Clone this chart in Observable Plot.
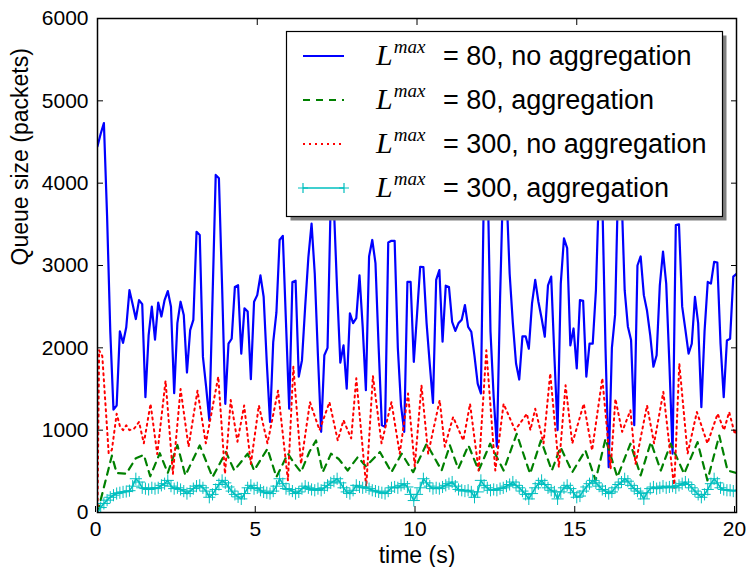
<!DOCTYPE html>
<html>
<head>
<meta charset="utf-8">
<script src="https://cdn.jsdelivr.net/npm/d3@7"></script>
<script src="https://cdn.jsdelivr.net/npm/@observablehq/plot@0.6"></script>
<style>
  html, body { margin: 0; padding: 0; background: white; }
  #wrap { position: relative; width: 746px; height: 567px; }
  #legend { position: absolute; left: 0; top: 0; pointer-events: none; }
</style>
</head>
<body>
<div id="wrap"></div>
<script>
// ---- data ----
const xTicks = [0, 5, 10, 15, 20];
const yTicks = [0, 1000, 2000, 3000, 4000, 5000, 6000];
const xLabel = "time (s)";
const yLabel = "Queue size (packets)";
const seriesNames = [
  "= 80, no aggregation",
  "= 80, aggregation",
  "= 300, no aggregation",
  "= 300, aggregation"
];
const sampleStep = 0.1; // seconds between samples of the sampled series

// L^max = 80, no aggregation (one value every 0.1 s, t = 0 .. 20)
const blueValues = [
  4450,4600,4730,3600,2200,1250,1300,2200,2060,2250,
  2700,2530,2350,2580,2530,1400,2150,2500,2100,2550,
  2380,2580,2690,2500,1450,2300,2560,2400,1700,2215,
  2340,3410,3370,1890,1525,1120,2600,4100,4060,2740,
  1320,2050,2110,2740,2760,1930,2480,2440,1620,2560,
  2640,2880,2620,1810,1100,2070,2430,3310,3360,2300,
  1260,2800,2815,1650,1850,2500,3100,3510,2900,1900,
  980,1910,2000,3800,3700,2700,1820,2030,1505,2420,
  2300,2360,2880,2255,1485,3110,3310,3030,2000,1060,
  1040,3280,3300,3300,2000,1300,980,2800,2800,1830,
  2400,2985,2980,2300,1800,1330,2825,2945,2075,2755,
  2740,2315,2205,2300,2340,2520,2255,2195,1900,1565,
  1445,4100,4300,2200,1400,800,2600,4100,3900,2900,
  2300,1810,1615,2140,2140,1990,2540,2825,2560,2360,
  2135,2760,2865,1900,1000,2780,3330,3210,2030,2235,
  1750,2580,2570,1650,2050,2050,2700,4000,3800,2000,
  550,2000,2400,4100,3900,2700,2260,2095,1060,3000,
  3110,2640,2450,2150,1770,1910,2760,3170,2780,1800,
  715,3490,3500,2500,2220,1930,2050,2620,2300,1280,
  2200,2800,2780,3045,3035,2050,1400,2090,2110,2865,
  2900
];

// L^max = 80, aggregation (turning points: time, value)
const greenTimes = [0,0.45,0.6,0.9,1.2,1.45,1.65,1.95,2.2,2.5,2.75,3.2,3.6,4.02,4.28,4.7,4.9,5.32,5.6,5.96,6.15,6.37,6.63,6.84,7.05,7.31,7.55,7.83,8.15,8.4,8.84,9.2,9.52,9.88,10.3,10.77,11.03,11.29,11.61,11.93,12.29,12.71,13.12,13.54,13.88,14.22,14.49,14.86,15.27,15.59,15.9,16.27,16.68,17.0,17.32,17.63,17.94,18.36,18.78,19.09,19.46,19.72,20];
const greenValues = [0,690,480,470,660,700,440,720,480,820,450,815,430,735,510,715,510,775,430,715,600,490,735,875,490,715,650,510,675,560,735,490,715,490,835,510,815,530,815,510,835,510,955,470,875,510,795,490,755,390,895,430,835,450,855,510,835,470,855,390,935,510,480];

// L^max = 300, no aggregation (turning points: time, value)
const redTimes = [0,0.05,0.15,0.35,0.45,0.6,0.7,0.8,0.9,1.0,1.15,1.3,1.45,1.66,1.87,2.13,2.36,2.6,2.85,3.13,3.39,3.78,3.99,4.17,4.38,4.59,4.8,5.05,5.32,5.65,5.96,6.13,6.37,6.65,6.95,7.26,7.52,7.7,7.94,8.1,8.41,8.62,8.89,9.2,9.46,9.72,9.93,10.14,10.35,10.71,10.87,11.13,11.45,11.66,11.93,12.17,12.45,12.71,13.07,13.44,13.55,13.7,13.96,14.17,14.44,14.65,14.86,15.22,15.48,15.8,16.06,16.21,16.42,16.68,16.84,17.2,17.42,17.71,18.05,18.21,18.47,18.76,19.09,19.41,19.61,19.77,19.95,20];
const redValues = [0,1970,1900,720,760,1200,1050,1000,1060,1000,1020,1100,840,1320,710,1600,470,1500,800,1480,840,1650,470,1365,860,1300,590,1300,840,1480,390,1770,590,1340,1000,1340,875,1120,900,1630,310,1660,840,1340,715,1445,560,1545,715,1365,800,1160,875,1320,510,1970,510,1320,1000,1200,1000,1260,840,1690,550,1545,840,1320,755,1630,530,1380,980,1240,590,1300,840,1465,300,1810,715,1220,840,1200,1000,1220,950,1000];

// L^max = 300, aggregation (one value every 0.1 s, t = 0 .. 20)
const cyanValues = [
  0,60,110,150,185,210,230,240,250,255,
  265,320,410,370,300,290,280,300,290,300,
  330,350,390,320,290,300,280,260,230,260,
  290,320,330,300,260,185,220,280,340,390,
  360,310,260,220,190,165,230,300,330,290,
  300,270,250,240,230,260,320,410,350,290,
  280,260,230,250,290,320,300,280,270,290,
  270,300,330,360,380,410,360,300,250,230,
  270,330,310,300,310,290,270,260,250,240,
  230,260,300,310,300,330,350,310,220,145,
  220,300,410,360,320,290,300,290,310,330,
  350,370,320,280,270,260,270,250,185,250,
  390,330,300,270,280,270,290,300,320,340,
  370,330,300,260,220,165,230,300,350,390,
  340,300,270,250,165,250,300,330,290,240,
  185,200,260,310,350,390,360,320,280,260,
  230,250,300,340,370,410,380,330,290,260,
  230,165,240,290,310,290,300,320,300,310,
  320,300,330,350,370,340,300,260,220,185,
  220,280,350,410,360,300,280,270,270,260,
  270
];

const colors = ["#0000ff", "#008000", "#ff0000", "#00bfbf"];
const dashes = [null, "7,6", "2,4", null];

// ---- tables built from the arrays ----
const blue = blueValues.map((v, i) => ({t: i * sampleStep, v}));
const cyan = cyanValues.map((v, i) => ({t: i * sampleStep, v}));
const green = greenTimes.map((t, i) => ({t, v: greenValues[i]}));
const red = redTimes.map((t, i) => ({t, v: redValues[i]}));

const font = "Liberation Sans, Arial, sans-serif";

const chart = Plot.plot({
  width: 746,
  height: 567,
  marginLeft: 97,
  marginRight: 10,
  marginTop: 18,
  marginBottom: 55,
  style: {fontFamily: font, fontSize: "21px", background: "white", color: "black"},
  x: {domain: [0, 20]},
  y: {domain: [0, 6000]},
  marks: [
    Plot.line(blue, {x: "t", y: "v", stroke: colors[0], strokeWidth: 2.2, clip: true}),
    Plot.line(green, {x: "t", y: "v", stroke: colors[1], strokeWidth: 2.2, strokeDasharray: dashes[1], clip: true}),
    Plot.line(red, {x: "t", y: "v", stroke: colors[2], strokeWidth: 2, strokeDasharray: dashes[2], clip: true}),
    Plot.line(cyan, {x: "t", y: "v", stroke: colors[3], strokeWidth: 1.6, clip: true}),
    Plot.dot(cyan, {x: "t", y: "v", symbol: "plus", r: 4, stroke: colors[3], strokeWidth: 1, clip: true}),
    Plot.axisX(xTicks, {anchor: "bottom", tickSize: -6, tickPadding: 15, fontSize: 21, dx: -2,
      tickFormat: "d", label: null}),
    Plot.axisX(xTicks, {anchor: "top", tickSize: -6, tickFormat: () => "", label: null}),
    Plot.axisY(yTicks, {anchor: "left", tickSize: -6, tickPadding: 15, fontSize: 21,
      tickFormat: "d", label: null}),
    Plot.axisY(yTicks, {anchor: "right", tickSize: -6, tickFormat: () => "", label: null}),
    Plot.text([xLabel], {frameAnchor: "bottom", dy: 43, fontSize: 23, lineAnchor: "middle"}),
    Plot.text([yLabel], {frameAnchor: "left", dx: -77, rotate: -90, fontSize: 23}),
    Plot.frame({stroke: "black", strokeWidth: 1.5})
  ]
});

const wrap = document.getElementById("wrap");
wrap.appendChild(chart);

// ---- legend box (drawn over the plot like matplotlib's) ----
const NS = "http://www.w3.org/2000/svg";
const leg = document.createElementNS(NS, "svg");
leg.setAttribute("id", "legend");
leg.setAttribute("width", 746);
leg.setAttribute("height", 567);
function el(tag, attrs, parent) {
  const e = document.createElementNS(NS, tag);
  for (const k in attrs) e.setAttribute(k, attrs[k]);
  (parent || leg).appendChild(e);
  return e;
}
const box = {x: 286.5, y: 31.5, w: 436, h: 185};
el("rect", {x: box.x + 4, y: box.y + 4, width: box.w, height: box.h, fill: "#808080"});
el("rect", {x: box.x, y: box.y, width: box.w, height: box.h, fill: "white", stroke: "black", "stroke-width": 1.2});
const rowY = [56, 100, 144, 188];
seriesNames.forEach((name, i) => {
  const y = rowY[i];
  const ln = el("line", {x1: 303, x2: 344, y1: y, y2: y, stroke: colors[i], "stroke-width": 2});
  if (dashes[i]) ln.setAttribute("stroke-dasharray", dashes[i]);
  if (i === 3) {
    ln.setAttribute("stroke-width", 1.5);
    for (const mx of [303, 344]) {
      el("path", {d: `M${mx - 5},${y}H${mx + 5}M${mx},${y - 5}V${y + 5}`, stroke: colors[i], "stroke-width": 1.2, fill: "none"});
    }
  }
  const tx = el("text", {x: 376, y: y + 9, fill: "black"});
  const tL = el("tspan", {"font-family": "Liberation Serif, serif", "font-style": "italic", "font-size": 30}, tx);
  tL.textContent = "L";
  const tM = el("tspan", {"font-family": "Liberation Serif, serif", "font-style": "italic", "font-size": 19, dy: -12, dx: 1}, tx);
  tM.textContent = "max";
  const tR = el("tspan", {"font-family": font, "font-size": 27, x: 443, dy: 12}, tx);
  tR.textContent = name;
});
wrap.appendChild(leg);
</script>
</body>
</html>
